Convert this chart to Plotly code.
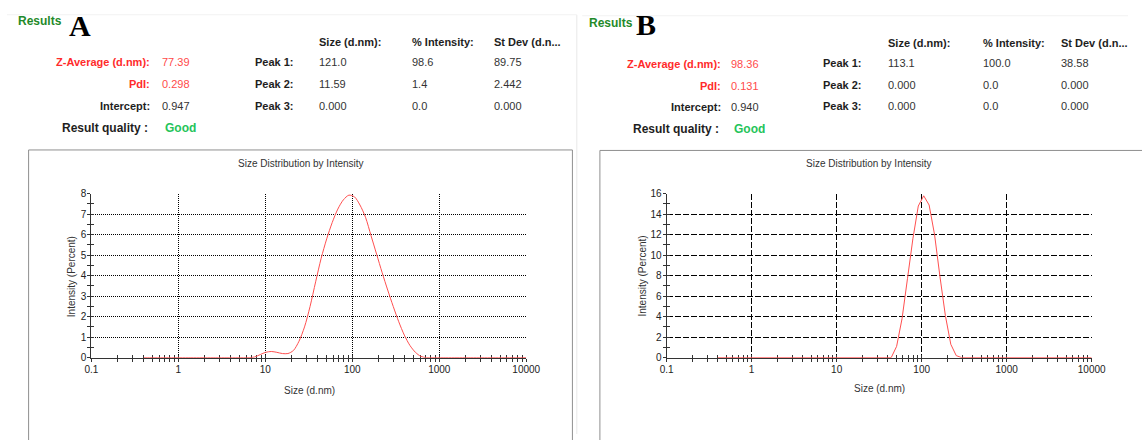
import plotly.graph_objects as go

W, H = 1142, 440
FONT = "Liberation Sans, Arial, sans-serif"
SERIF = "Liberation Serif, Times New Roman, serif"

# Size classes (d.nm) of the intensity distribution
size_nm = [0.4000, 0.4632, 0.5365, 0.6213, 0.7195, 0.8332, 0.9649, 1.117, 1.294, 1.499,
           1.736, 2.010, 2.328, 2.696, 3.122, 3.615, 4.187, 4.849, 5.615, 6.503,
           7.531, 8.721, 10.10, 11.70, 13.54, 15.69, 18.17, 21.04, 24.36, 28.21,
           32.67, 37.84, 43.82, 50.75, 58.77, 68.06, 78.82, 91.28, 105.7, 122.4,
           141.8, 164.2, 190.1, 220.2, 255.0, 295.3, 342.0, 396.1, 458.7, 531.2,
           615.1, 712.4, 825.0, 955.4, 1106, 1281, 1484, 1718, 1990, 2305,
           2669, 3091, 3580, 4145, 4801, 5560, 6439, 7456, 8635, 10000]

# Intensity (%) per size class, sample A
intensity_a = [0, 0, 0, 0, 0, 0, 0, 0, 0, 0,
               0, 0, 0, 0, 0, 0, 0, 0, 0, 0,
               0.03, 0.15, 0.26, 0.30, 0.26, 0.20, 0.20, 0.35, 0.80, 1.50,
               2.50, 3.70, 4.85, 5.80, 6.60, 7.25, 7.70, 7.93, 7.85, 7.45,
               6.85, 5.95, 5.05, 4.15, 3.30, 2.50, 1.75, 1.10, 0.60, 0.26,
               0.06, 0, 0, 0, 0, 0, 0, 0, 0, 0,
               0, 0, 0, 0, 0, 0, 0, 0, 0, 0]

# Intensity (%) per size class, sample B
intensity_b = [0, 0, 0, 0, 0, 0, 0, 0, 0, 0,
               0, 0, 0, 0, 0, 0, 0, 0, 0, 0,
               0, 0, 0, 0, 0, 0, 0, 0, 0, 0,
               0, 0, 0, 1.1, 3.8, 7.7, 11.6, 14.8, 15.8, 14.9,
               12.0, 7.9, 4.1, 1.3, 0.2, 0, 0, 0, 0, 0,
               0, 0, 0, 0, 0, 0, 0, 0, 0, 0,
               0, 0, 0, 0, 0, 0, 0, 0, 0, 0]

x_tick_vals = [0.1, 1, 10, 100, 1000, 10000]
x_tick_text = ["0.1", "1", "10", "100", "1000", "10000"]
y_ticks_a = [0, 1, 2, 3, 4, 5, 6, 7, 8]
y_ticks_b = [0, 2, 4, 6, 8, 10, 12, 14, 16]

# Result summary tables
summary_labels = ["Z-Average (d.nm):", "PdI:", "Intercept:"]
summary_a = ["77.39", "0.298", "0.947"]
summary_b = ["98.36", "0.131", "0.940"]
peak_labels = ["Peak 1:", "Peak 2:", "Peak 3:"]
peak_headers = ["Size (d.nm):", "% Intensity:", "St Dev (d.n..."]
peak_size_a = ["121.0", "11.59", "0.000"]
peak_int_a = ["98.6", "1.4", "0.0"]
peak_sd_a = ["89.75", "2.442", "0.000"]
peak_size_b = ["113.1", "0.000", "0.000"]
peak_int_b = ["100.0", "0.0", "0.0"]
peak_sd_b = ["38.58", "0.000", "0.000"]


def px(x):
    return x / W


def py(y):
    return 1 - y / H


RED_LABEL = "#ff2b2b"
RED_VALUE = "#ff4a4a"
DARK = "#1e1e1e"
VALUE = "#333333"
CURVE = "#ff5050"

fig = go.Figure()

# Distribution curves
fig.add_trace(go.Scatter(x=size_nm, y=intensity_a, xaxis="x", yaxis="y", mode="lines",
                         line=dict(color=CURVE, width=1, shape="spline", smoothing=0.8),
                         hoverinfo="skip", showlegend=False))
fig.add_trace(go.Scatter(x=size_nm, y=intensity_b, xaxis="x2", yaxis="y2", mode="lines",
                         line=dict(color=CURVE, width=1),
                         hoverinfo="skip", showlegend=False))
# Empty traces that bring the overlay tick axes to life
for xa_id, ya_id in [("x3", "y"), ("x", "y3"), ("x4", "y2"), ("x2", "y4")]:
    fig.add_trace(go.Scatter(x=[None], y=[None], xaxis=xa_id, yaxis=ya_id, mode="lines",
                             hoverinfo="skip", showlegend=False))

tickfont = dict(family=FONT, size=10, color="#222")
TICK_C = "#333"
GRID_C = "#000000"


def main_x(domain, dash, anchor, gw):
    return dict(domain=domain, anchor=anchor, type="log", range=[-1, 4],
                tickmode="array", tickvals=x_tick_vals, ticktext=x_tick_text,
                ticks="inside", ticklen=3, tickcolor=TICK_C, tickfont=tickfont,
                ticklabelstandoff=2,
                showline=True, linecolor=TICK_C, linewidth=1, layer="below traces",
                showgrid=True, gridcolor=GRID_C, gridwidth=gw, griddash=dash,
                zeroline=False, fixedrange=True,
                minor=dict(ticks="inside", ticklen=3, dtick="D1", tickcolor=TICK_C, showgrid=False))


def over_x(base, anchor):
    return dict(overlaying=base, anchor=anchor, type="log", range=[-1, 4],
                tickmode="array", tickvals=x_tick_vals, ticks="outside", ticklen=3,
                tickcolor=TICK_C, showticklabels=False, showgrid=False, showline=False,
                zeroline=False, fixedrange=True, layer="below traces",
                minor=dict(ticks="outside", ticklen=3, dtick="D1", tickcolor=TICK_C, showgrid=False))


def main_y(domain, ticks, minor_step, dash, anchor, gw):
    return dict(domain=domain, anchor=anchor, range=[ticks[0], ticks[-1]], tickmode="array",
                tickvals=ticks, ticks="inside", ticklen=3, tickcolor=TICK_C, tickfont=tickfont,
                ticklabelstandoff=2,
                showline=True, linecolor=TICK_C, linewidth=1, layer="below traces",
                showgrid=True, gridcolor=GRID_C, gridwidth=gw, griddash=dash,
                zeroline=False, fixedrange=True,
                minor=dict(ticks="inside", ticklen=3, dtick=minor_step, tick0=0,
                           tickcolor=TICK_C, showgrid=False))


def over_y(base, anchor, ticks, minor_step):
    return dict(overlaying=base, anchor=anchor, range=[ticks[0], ticks[-1]], tickmode="array",
                tickvals=ticks, ticks="outside", ticklen=3, tickcolor=TICK_C,
                showticklabels=False, showgrid=False, showline=False, zeroline=False,
                fixedrange=True, layer="below traces",
                minor=dict(ticks="outside", ticklen=3, dtick=minor_step, tick0=0,
                           tickcolor=TICK_C, showgrid=False))


y_dom = [py(361.5), py(193)]
xa_dom = [px(86), px(529)]
xb_dom = [px(672), px(1105)]

fig.update_layout(
    width=W, height=H, margin=dict(l=0, r=0, t=0, b=0),
    paper_bgcolor="white", plot_bgcolor="white", showlegend=False,
    xaxis=main_x(xa_dom, "1px,1px", "y", 1.2),
    yaxis=main_y(y_dom, y_ticks_a, 0.5, "1px,1px", "x", 1.2),
    xaxis2=main_x(xb_dom, "6px,2px", "y2", 1),
    yaxis2=main_y(y_dom, y_ticks_b, 1, "6px,2px", "x2", 1),
    xaxis3=over_x("x", "y"),
    yaxis3=over_y("y", "x", y_ticks_a, 0.5),
    xaxis4=over_x("x2", "y2"),
    yaxis4=over_y("y2", "x2", y_ticks_b, 1),
)

# Frames around the chart panels and faint page separators
shapes = [
    dict(type="rect", xref="paper", yref="paper", x0=px(22), x1=px(576), y0=py(460), y1=py(148),
         line=dict(color="#8f8f8f", width=1), layer="below"),
    dict(type="rect", xref="paper", yref="paper", x0=px(604), x1=px(1160), y0=py(460), y1=py(148.5),
         line=dict(color="#8f8f8f", width=1), layer="below"),
    dict(type="line", xref="paper", yref="paper", x0=px(580.5), x1=px(580.5), y0=py(440), y1=py(9),
         line=dict(color="#e8e8e8", width=1), layer="below"),
    dict(type="line", xref="paper", yref="paper", x0=0, x1=px(580.5), y0=py(9), y1=py(9),
         line=dict(color="#f2f2f2", width=1), layer="below"),
    dict(type="line", xref="paper", yref="paper", x0=px(586), x1=1, y0=py(10), y1=py(10),
         line=dict(color="#f2f2f2", width=1), layer="below"),
]
fig.update_layout(shapes=shapes)

ann = []


def text(x, y, s, size=11, color=DARK, weight="normal", xanchor="left", family=FONT, angle=0):
    ann.append(dict(x=px(x), y=py(y), xref="paper", yref="paper", text=s, showarrow=False,
                    xanchor=xanchor, yanchor="middle", textangle=angle, borderpad=0,
                    font=dict(family=family, size=size, color=color, weight=weight)))


panels = [
    dict(letter="A", results_x=10, results_y=15, letter_x=74, letter_y=20,
         lab_right=147, val_left=157, rows=[58, 80, 103], quality_y=125, good_x=160,
         peak_right=293, cols=[317, 412, 495], head_y=37, prow=[58, 80, 103],
         summary=summary_a, psize=peak_size_a, pint=peak_int_a, psd=peak_sd_a,
         title_x=299, ytitle_x=66, xtitle_x=308, xtitle_y=395),
    dict(letter="B", results_x=592, results_y=17, letter_x=651, letter_y=19,
         lab_right=728, val_left=737, rows=[60, 82, 104], quality_y=126, good_x=740,
         peak_right=872, cols=[896, 993, 1073], head_y=38, prow=[59, 81, 103],
         summary=summary_b, psize=peak_size_b, pint=peak_int_b, psd=peak_sd_b,
         title_x=878, ytitle_x=647, xtitle_x=889, xtitle_y=393),
]

for p in panels:
    text(p["results_x"], p["results_y"], "Results", size=12, color="#1f8a2a", weight="bold")
    text(p["letter_x"], p["letter_y"], p["letter"], size=30, color="#000", weight="bold",
         xanchor="center", family=SERIF)
    for i, (lab, val) in enumerate(zip(summary_labels, p["summary"])):
        red = i < 2
        text(p["lab_right"], p["rows"][i], lab, size=11,
             color=RED_LABEL if red else DARK, weight="bold", xanchor="right")
        text(p["val_left"], p["rows"][i], val, size=11, color=RED_VALUE if red else VALUE)
    text(p["lab_right"] - 2, p["quality_y"], "Result quality :", size=12, color=DARK,
         weight="bold", xanchor="right")
    text(p["good_x"], p["quality_y"], "Good", size=12, color="#25c45a", weight="bold")
    for i, lab in enumerate(peak_labels):
        text(p["peak_right"], p["prow"][i], lab, size=11, color=DARK, weight="bold",
             xanchor="right")
    for c, head in zip(p["cols"], peak_headers):
        text(c, p["head_y"], head, size=11, color=DARK, weight="bold")
    for i in range(3):
        text(p["cols"][0], p["prow"][i], p["psize"][i], size=11, color=VALUE)
        text(p["cols"][1], p["prow"][i], p["pint"][i], size=11, color=VALUE)
        text(p["cols"][2], p["prow"][i], p["psd"][i], size=11, color=VALUE)
    text(p["title_x"], 162, "Size Distribution by Intensity", size=10, color="#333",
         xanchor="center")
    text(p["ytitle_x"], 278, "Intensity (Percent)", size=10, color="#333",
         xanchor="center", angle=-90)
    text(p["xtitle_x"], p["xtitle_y"], "Size (d.nm)", size=10, color="#333", xanchor="center")

fig.update_layout(annotations=ann)
fig.write_html("out.html")
